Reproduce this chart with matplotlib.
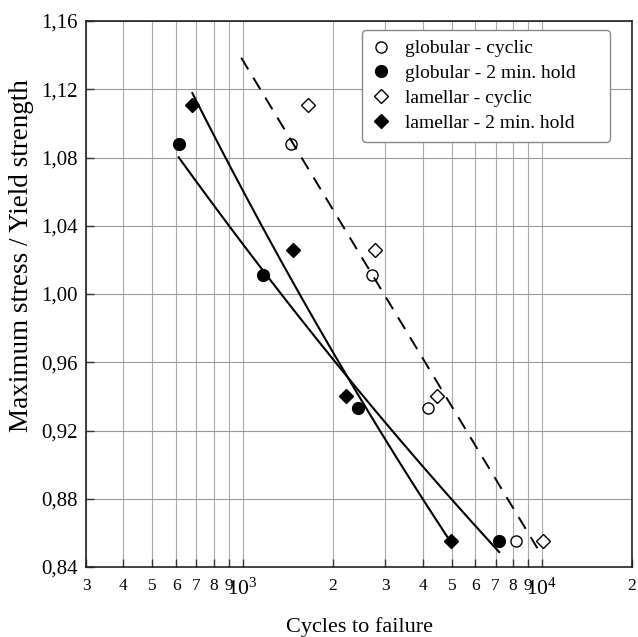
import matplotlib
matplotlib.use("Agg")
import matplotlib.pyplot as plt
import numpy as np
from matplotlib.ticker import FixedLocator, FixedFormatter

plt.rcParams["font.family"] = ["Liberation Serif", "DejaVu Serif"]
plt.rcParams["mathtext.fontset"] = "custom"
plt.rcParams["mathtext.rm"] = "Liberation Serif"
plt.rcParams["mathtext.it"] = "Liberation Serif:italic"

# ---------- data ----------
glob_cyc_n = [1455, 2700, 4150, 8180]
glob_cyc_s = [1.088, 1.011, 0.933, 0.855]
glob_hold_n = [612, 1170, 2425, 7200]
glob_hold_s = [1.088, 1.011, 0.933, 0.855]
lam_cyc_n = [1650, 2780, 4450, 10100]
lam_cyc_s = [1.111, 1.026, 0.940, 0.855]
lam_hold_n = [680, 1473, 2220, 4970]
lam_hold_s = [1.111, 1.026, 0.940, 0.855]

# dashed guide line for the cyclic tests (end points)
cyc_trend_n = [990, 9660]
cyc_trend_s = [1.1385, 0.851]

x_major = [1000, 10000]
x_major_labels = [r"$10^3$", r"$10^4$"]
x_minor = [300, 400, 500, 600, 700, 800, 900,
           2000, 3000, 4000, 5000, 6000, 7000, 8000, 9000, 20000]
x_minor_labels = ["3", "4", "5", "6", "7", "8", "9",
                  "2", "3", "4", "5", "6", "7", "8", "9", "2"]
y_ticks = [0.84, 0.88, 0.92, 0.96, 1.00, 1.04, 1.08, 1.12, 1.16]


def basquin(n, s):
    # power-law fit S = A * N^b, drawn over the data range
    b, a = np.polyfit(np.log10(n), np.log10(s), 1)
    nn = np.geomspace(min(n), max(n), 100)
    return nn, 10 ** (a + b * np.log10(nn))


fig = plt.figure(figsize=(6.38, 6.37), dpi=100)
ax = fig.add_axes([0.1348, 0.1099, 0.8558, 0.8571])
ax.set_xscale("log")
ax.set_xlim(300, 20000)
ax.set_ylim(0.84, 1.16)

# fits
nn, ss = basquin(glob_hold_n, glob_hold_s)
ax.plot(nn, ss, color="black", lw=1.5, zorder=4)
nn, ss = basquin(lam_hold_n, lam_hold_s)
ax.plot(nn, ss, color="black", lw=1.5, zorder=4)
ax.plot(cyc_trend_n, cyc_trend_s, color="black", lw=1.4, dashes=(7, 5), zorder=4)

# points
ax.plot(glob_cyc_n, glob_cyc_s, "o", ms=8, mfc="white", mec="black", mew=1,
        label="globular - cyclic", zorder=3)
ax.plot(glob_hold_n, glob_hold_s, "o", ms=8.5, mfc="black", mec="black",
        label="globular - 2 min. hold", zorder=3)
ax.plot(lam_cyc_n, lam_cyc_s, "D", ms=7, mfc="white", mec="black", mew=1,
        label="lamellar - cyclic", zorder=3)
ax.plot(lam_hold_n, lam_hold_s, "D", ms=7, mfc="black", mec="black",
        label="lamellar - 2 min. hold", zorder=3)

# axes / ticks
ax.xaxis.set_major_locator(FixedLocator(x_major))
ax.xaxis.set_major_formatter(FixedFormatter(x_major_labels))
ax.xaxis.set_minor_locator(FixedLocator(x_minor))
ax.xaxis.set_minor_formatter(FixedFormatter(x_minor_labels))
ax.set_yticks(y_ticks)
ax.set_yticklabels([f"{v:.2f}".replace(".", ",") for v in y_ticks])

ax.tick_params(axis="both", which="both", direction="in", length=6, width=1,
               color="#333333")
ax.tick_params(axis="x", which="minor", labelsize=12.5, pad=8)
ax.tick_params(axis="x", which="major", labelsize=15.5, pad=8)
ax.tick_params(axis="y", labelsize=15, pad=6)

ax.grid(True, which="both", axis="x", color="#a8a8a8", lw=0.8)
ax.grid(True, which="major", axis="y", color="#999999", lw=0.8)
ax.set_axisbelow(True)
for sp in ax.spines.values():
    sp.set_linewidth(1.2)
    sp.set_color("#222222")

ax.set_xlabel("Cycles to failure", fontsize=16, labelpad=13)
ax.set_ylabel("Maximum stress / Yield strength", fontsize=19.5)
ax.yaxis.set_label_coords(-0.095, 0.571)

leg = ax.legend(loc="upper left", bbox_to_anchor=(0.5055, 0.9835, 0.4542, 0.0),
                mode="expand", borderaxespad=0,
                fontsize=14, numpoints=1, handlelength=1.0, handletextpad=0.7,
                labelspacing=0.37, borderpad=0.5, fancybox=True, framealpha=1)
leg.get_frame().set_edgecolor("#888888")
leg.get_frame().set_linewidth(1.0)

fig.savefig("out.png", dpi=100)
